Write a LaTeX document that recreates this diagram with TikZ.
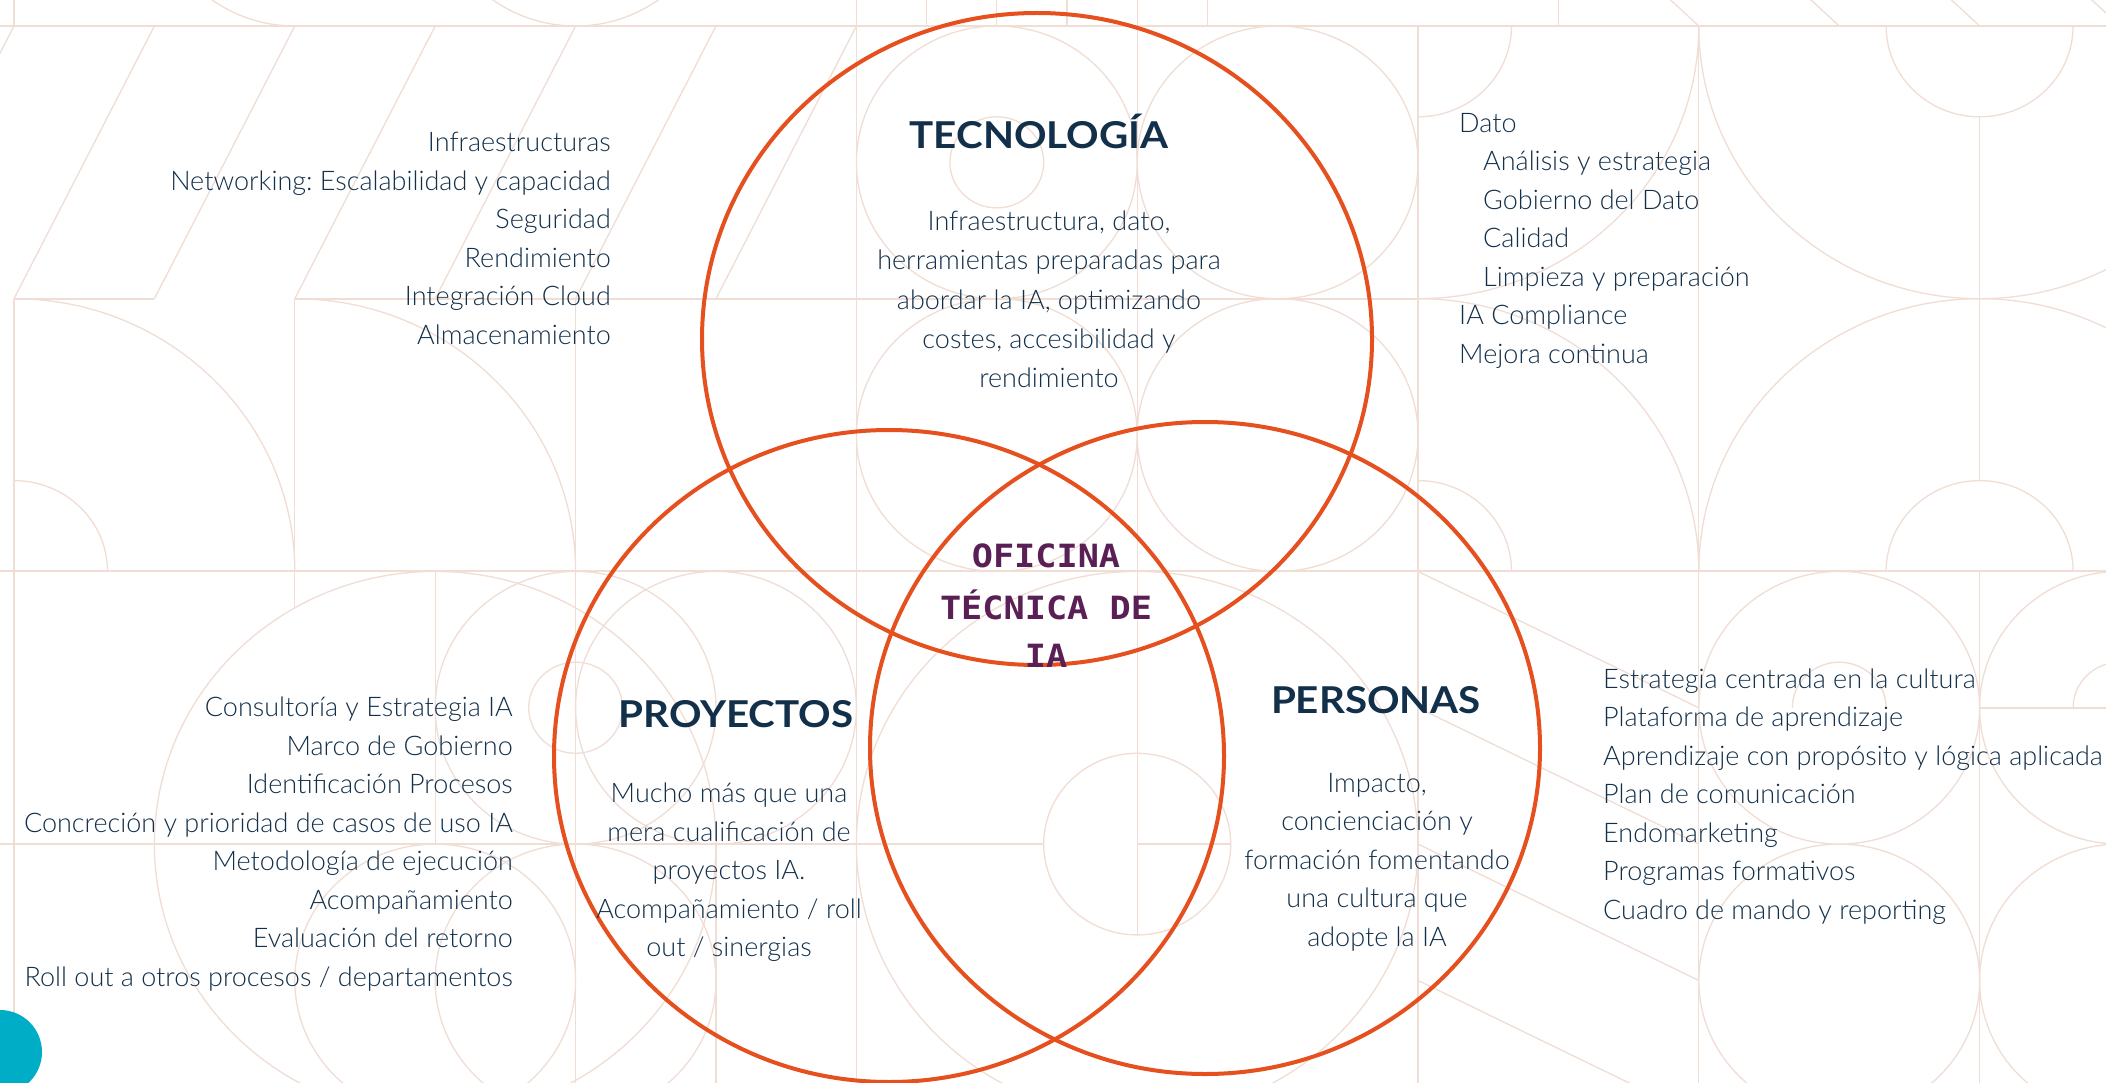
\documentclass[tikz,border=0pt]{standalone}
\usepackage{fontspec}
\setmainfont{Lato Light}
\newfontfamily\headfont{Lato}[UprightFont=* Bold]
\newfontfamily\ofifont{DejaVu Sans Mono}[UprightFont=* Bold]
\definecolor{navy}{HTML}{12304A}
\definecolor{ring}{HTML}{E5501E}
\definecolor{plum}{HTML}{5A1F55}
\definecolor{bgl}{HTML}{F0DDD3}
\definecolor{tealdot}{HTML}{00ADC6}
\tikzset{
  bgline/.style={draw=bgl, line width=1.3pt},
  gridline/.style={draw=bgl, line width=2pt},
  vring/.style={draw=ring, line width=4pt},
  item/.style={font=\fontsize{27}{31}\selectfont, text=navy, inner sep=0pt},
  head/.style={font=\headfont\fontsize{37}{40}\selectfont, text=navy, inner sep=0pt, anchor=base, xscale=1.09},
  ofi/.style={font=\ofifont\fontsize{32}{40}\selectfont, text=plum, inner sep=0pt, anchor=base, xscale=1.1},
}
\begin{document}
\frenchspacing
\begin{tikzpicture}[x=1pt,y=1pt]
\useasboundingbox (0,0) rectangle (2106,-1083);
\fill[white] (0,0) rectangle (2106,-1083);
\begin{scope}
\clip (0,0) rectangle (2106,-1083);
\begin{scope}[shift={(14,-26)},x=280.8pt,y=272.7pt]
  % grid lines
  \draw[gridline] (-0.1,0) -- (7.6,0);
  \draw[gridline] (0,-1) -- (0.5,-1) (1,-1) -- (5,-1);
  \draw[gridline] (-0.1,-2) -- (7.6,-2);
  \draw[gridline] (-0.1,-3) -- (3.667,-3) (4,-3) -- (4.333,-3);
  \draw[gridline] (7,-2.5) -- (7.6,-2.5);
  % verticals
  \draw[bgline] (0,0.2) -- (0,0) (0,-1) -- (0,-4.1);
  \draw[bgline] (1,-1) -- (1,-2.134);
  \draw[bgline] (1.5,-2) -- (1.5,-3);
  \draw[bgline] (2,-1) -- (2,-4.1);
  \draw[bgline] (2.5,-3) -- (2.5,-4.1);
  \draw[bgline] (3,0.2) -- (3,-4.1);
  \foreach \i in {3.25,3.5,3.75,4.25,5.5} \draw[bgline] (\i,0.2) -- (\i,0);
  \draw[bgline] (4,0.2) -- (4,-3.333);
  \draw[bgline] (5,0) -- (5,-4.1);
  \draw[bgline] (6,0) -- (6,-4.1);
  \draw[bgline] (7,-0.333) -- (7,-1.667) (7,-2) -- (7,-4.1);
  % top row pieces
  \draw[bgline] (0.5,0.5) arc[start angle=180,end angle=270,radius=0.5];
  \draw[bgline] (1.5,0.5) arc[start angle=180,end angle=360,radius=0.5];
  \foreach \e in {6,6.5,7,7.5} \draw[bgline] (\e-0.2,0.19) -- (\e,0);
  % slanted band
  \foreach \k in {-1,...,5} \draw[bgline] (\k*0.5,-1) -- (\k*0.5+0.5,0);
  % circles rows 0-1
  \draw[bgline] (3.5,-0.5) circle[radius=0.5] (3.5,-0.5) circle[radius=0.167];
  \draw[bgline] (4.5,-0.5) circle[radius=0.5];
  \draw[bgline] (3.5,-1.5) circle[radius=0.5];
  \draw[bgline] (4.5,-1.5) circle[radius=0.5];
  \draw[bgline] (5,-0.333) arc[start angle=270,end angle=360,radius=0.333];
  \draw[bgline] (5,-1) arc[start angle=270,end angle=360,radius=1];
  \draw[bgline] (6,0) arc[start angle=180,end angle=360,radius=1];
  \draw[bgline] (6.667,0) arc[start angle=180,end angle=360,radius=0.333];
  \draw[bgline] (1,-2) arc[start angle=0,end angle=90,radius=1];
  \draw[bgline] (0.333,-2) arc[start angle=0,end angle=90,radius=0.333];
  \draw[bgline] (2,-2) arc[start angle=0,end angle=90,radius=1];
  \draw[bgline] (6,-2) arc[start angle=0,end angle=90,radius=1];
  \draw[bgline] (5.333,-2) arc[start angle=0,end angle=90,radius=0.333];
  \draw[bgline] (8,-2) arc[start angle=0,end angle=180,radius=1];
  \draw[bgline] (7.333,-2) arc[start angle=0,end angle=180,radius=0.333];
  % rows 2-3
  \draw[bgline] (1.5,-3) circle[radius=1];
  \draw[bgline] (1.5,-3.5) circle[radius=0.5];
  \draw[bgline] (2,-2.5) circle[radius=0.5] (2,-2.5) circle[radius=0.167];
  \draw[bgline] (2.5,-2.5) circle[radius=0.5];
  \draw[bgline] (2,-3.5) circle[radius=0.5];
  \draw[bgline] (4,-3) circle[radius=1] (4,-3) circle[radius=0.333];
  \draw[bgline] (6.5,-2.5) circle[radius=0.5] (6.5,-3.5) circle[radius=0.5];
  \draw[bgline] (7.5,-2.5) circle[radius=0.5] (7.5,-3.5) circle[radius=0.5];
  \draw[bgline] (6.667,-2.5) arc[start angle=0,end angle=180,radius=0.167];
  \draw[bgline] (7.667,-2.5) arc[start angle=0,end angle=180,radius=0.167];
  \foreach \k in {0,...,3} \draw[bgline] (5,-2-0.5*\k) -- (6,-2.5-0.5*\k);
\end{scope}
\fill[tealdot] (0,-1052) circle[radius=42];
\end{scope}

% main rings
\draw[vring] (1037,-339) ellipse [x radius=335, y radius=326];
\draw[vring] (889,-756) ellipse [x radius=335, y radius=326];
\draw[vring] (1205,-748) ellipse [x radius=335, y radius=326];

% headings
\node[head] (htec) at (1039,-148.6) {TECNOLOGÍA};
\node[head] (hpro) at (736,-727.7) {PROYECTOS};
\node[head] (hper) at (1376,-713.8) {PERSONAS};

% centre
\node[ofi] (o1) at (1046,-567) {OFICINA};
\node[ofi] (o2) at (1046,-619) {TÉCNICA DE};
\node[ofi] (o3) at (1046,-667) {IA};

% descriptions
\foreach \t [count=\k from 0] in {{Infraestructura, dato,},{herramientas preparadas para},{abordar la IA, optimizando},{costes, accesibilidad y},{rendimiento}}
  \node[item, anchor=base] (dt\k) at (1049,{-231-39*\k}) {\t};
\foreach \t [count=\k from 0] in {{Mucho más que una},{mera cualificación de},{proyectos IA.},{Acompañamiento / roll},{out / sinergias}}
  \node[item, anchor=base] (dp\k) at (729,{-802.7-38.5*\k}) {\t};
\foreach \t [count=\k from 0] in {{Impacto,},{concienciación y},{formación fomentando},{una cultura que},{adopte la IA}}
  \node[item, anchor=base] (de\k) at (1377,{-792.3-38.5*\k}) {\t};

% lists
\foreach \t [count=\k from 0] in {{Infraestructuras},{Networking: Escalabilidad y capacidad},{Seguridad},{Rendimiento},{Integración Cloud},{Almacenamiento}}
  \node[item, anchor=base east] (lt\k) at (611,{-152-38.4*\k}) {\t};
\foreach \t [count=\k from 0] in {{Consultoría y Estrategia IA},{Marco de Gobierno},{Identificación Procesos},{Concreción y prioridad de casos de uso IA},{Metodología de ejecución},{Acompañamiento},{Evaluación del retorno},{Roll out a otros procesos / departamentos}}
  \node[item, anchor=base east] (lp\k) at (513,{-716.6-38.5*\k}) {\t};
\node[item, anchor=base west] (ld0) at (1459,-132.4) {Dato};
\foreach \t [count=\k from 1] in {{Análisis y estrategia},{Gobierno del Dato},{Calidad},{Limpieza y preparación}}
  \node[item, anchor=base west] (ld\k) at (1483,{-132.4-38.5*\k}) {\t};
\node[item, anchor=base west] (ld5) at (1459,{-132.4-38.5*5}) {IA Compliance};
\node[item, anchor=base west] (ld6) at (1459,{-132.4-38.5*6}) {Mejora continua};
\foreach \t [count=\k from 0] in {{Estrategia centrada en la cultura},{Plataforma de aprendizaje},{Aprendizaje con propósito y lógica aplicada},{Plan de comunicación},{Endomarketing},{Programas formativos},{Cuadro de mando y reporting}}
  \node[item, anchor=base west] (le\k) at (1603,{-688-38.5*\k}) {\t};
\end{tikzpicture}
\end{document}
